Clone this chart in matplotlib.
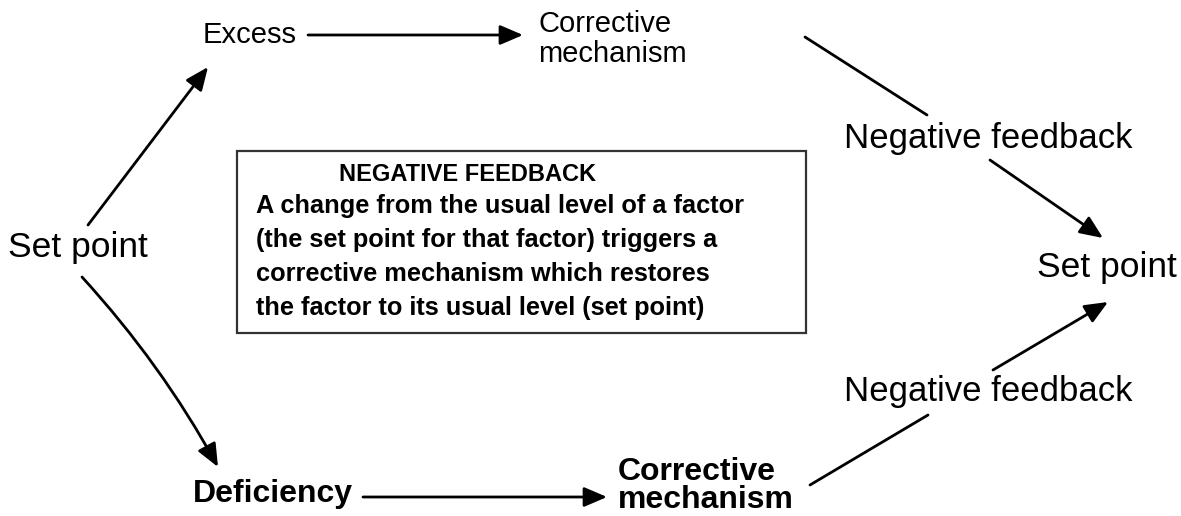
import matplotlib
matplotlib.use("Agg")
import matplotlib.pyplot as plt
from matplotlib.patches import FancyArrowPatch, Rectangle

plt.rcParams['font.family'] = ['Liberation Sans', 'DejaVu Sans']

# node texts
labels = ["Set point", "Excess", "Corrective\nmechanism", "Negative feedback",
          "Set point", "Negative feedback", "Deficiency", "Corrective\nmechanism"]
box_title = "NEGATIVE FEEDBACK"
box_lines = ["A change from the usual level of a factor",
             "(the set point for that factor) triggers a",
             "corrective mechanism which restores",
             "the factor to its usual level (set point)"]

# layout in pixel coordinates (x left, y baseline of first line), size, weight, line gap
label_pos = [(8, 257), (203, 43), (538, 32), (844, 148),
             (1037, 277), (844, 401), (193, 502), (618, 480)]
label_size = [25.5, 21, 21, 25, 25.5, 25, 23, 23]
label_weight = ["normal", "normal", "normal", "normal",
                "normal", "normal", "bold", "bold"]
label_gap = [30, 30, 30, 30, 30, 30, 30, 28]

# connectors: start, end, head, curvature
links = [((88, 225), (208, 67), True, 0.0),
         ((308, 35), (523, 35), True, 0.0),
         ((805, 37), (927, 115), False, 0.0),
         ((990, 160), (1103, 238), True, 0.0),
         ((82, 277), (218, 467), True, -0.06),
         ((363, 497), (607, 497), True, 0.0),
         ((810, 485), (928, 415), False, 0.0),
         ((993, 370), (1108, 302), True, 0.0)]

fig = plt.figure(figsize=(11.81, 5.16), dpi=100)
ax = fig.add_axes([0, 0, 1, 1])
ax.set_xlim(0, 1181)
ax.set_ylim(516, 0)
ax.axis('off')

for txt, (x, y), s, w, g in zip(labels, label_pos, label_size, label_weight, label_gap):
    for i, part in enumerate(txt.split("\n")):
        ax.text(x, y + i * g, part, fontsize=s, fontweight=w,
                ha='left', va='baseline', color='black')

for (x0, y0), (x1, y1), head, rad in links:
    style = '-|>,head_length=0.7,head_width=0.3' if head else '-'
    arr = FancyArrowPatch((x0, y0), (x1, y1), arrowstyle=style,
                          connectionstyle=f"arc3,rad={rad}",
                          mutation_scale=20, lw=2.0, color='black',
                          shrinkA=0, shrinkB=0)
    ax.add_patch(arr)

# text box
ax.add_patch(Rectangle((237, 151), 569, 182, fill=False, lw=1.6, edgecolor='#333333'))
ax.text(468, 181, box_title, fontsize=17, fontweight='bold', ha='center', va='baseline')
for i, line in enumerate(box_lines):
    ax.text(256, 213 + i * 34, line, fontsize=18.3, fontweight='bold',
            ha='left', va='baseline')

fig.savefig("out.png", dpi=100)
